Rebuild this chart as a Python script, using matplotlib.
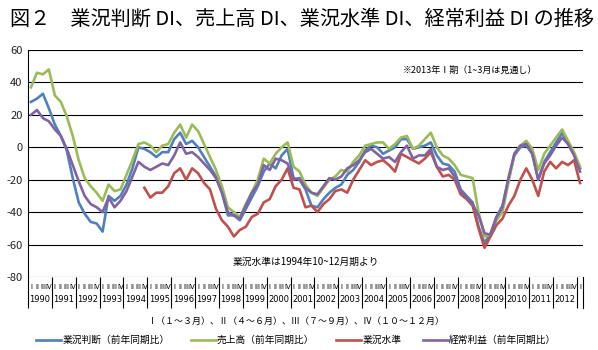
import matplotlib
matplotlib.use("Agg")
import matplotlib.pyplot as plt
import numpy as np

plt.rcParams['font.family'] = ['Noto Sans CJK JP', 'DejaVu Sans']
plt.rcParams['axes.unicode_minus'] = False

# quarterly data, 1990 I .. 2013 I
years = list(range(1990, 2013))
quarter_names = ["I", "II", "III", "IV"]

gyokyo_handan = [28, 30, 33, 24, 14, 7, -2, -19, -34, -41, -46, -47, -52, -30, -33, -30,
                 -23, -13, 0, -1, -3, -6, -3, -3, 5, 9, 2, 4, 0, -6, -12, -18,
                 -28, -42, -42, -45, -38, -31, -24, -15, -10, -13, -5, -1, -19, -20, -26, -36,
                 -37, -32, -28, -25, -23, -17, -14, -9, -2, 1, 0, -4, -2, 0, 5, 5,
                 -1, 0, 1, 3, -5, -10, -11, -15, -26, -30, -34, -49, -59, -53, -43, -36,
                 -20, -5, 0, 1, -4, -20, -9, -3, 3, 9, 2, -4, -13]

uriage = [37, 46, 45, 48, 32, 28, 19, 7, -8, -19, -24, -28, -33, -23, -27, -26,
          -17, -8, 2, 3, 1, -3, 1, 2, 9, 14, 6, 14, 10, 2, -6, -14,
          -24, -37, -40, -43, -35, -28, -20, -7, -10, -4, 0, 3, -12, -15, -23, -28,
          -30, -25, -20, -18, -14, -15, -9, -5, 1, 2, 3, 3, -1, 2, 6, 7,
          -1, 1, 5, 9, 0, -5, -7, -11, -17, -18, -19, -40, -55, -54, -45, -40,
          -22, -4, 1, 4, -1, -14, -4, 1, 6, 11, 4, -3, -12]

gyokyo_suijun = [None] * 19 + [
    -25, -31, -28, -28, -24, -16, -13, -20, -13, -16, -22, -26, -38,
    -45, -49, -55, -51, -49, -43, -41, -34, -32, -24, -20, -13, -25, -26, -37, -36,
    -40, -35, -32, -27, -26, -28, -20, -14, -8, -11, -9, -8, -11, -15, -4, -6,
    -8, -10, -7, -3, -12, -18, -17, -20, -29, -32, -36, -50, -62, -55, -48, -44,
    -36, -30, -20, -13, -20, -30, -15, -9, -13, -9, -11, -8, -22]

keijo_rieki = [20, 23, 18, 16, 11, 7, -1, -11, -21, -30, -35, -37, -40, -31, -37, -33,
               -27, -18, -9, -12, -14, -12, -10, -11, -5, 3, -4, -3, -6, -10, -14, -19,
               -28, -40, -42, -44, -36, -28, -23, -11, -14, -7, -8, -10, -20, -19, -25, -28,
               -29, -24, -19, -20, -18, -13, -11, -8, -3, -1, -4, -7, -6, -9, -3, 1,
               -7, -5, -5, -1, -12, -14, -13, -18, -27, -31, -35, -42, -53, -54, -43, -37,
               -19, -4, 1, 2, -4, -20, -10, -5, 1, 6, 2, -5, -15]

series = [
    ("業況判断（前年同期比）", gyokyo_handan, "#4F81BD"),
    ("売上高（前年同期比）", uriage, "#9BBB59"),
    ("業況水準", gyokyo_suijun, "#C0504D"),
    ("経常利益（前年同期比）", keijo_rieki, "#8064A2"),
]

n = len(gyokyo_handan)
x = np.arange(n)

fig = plt.figure(figsize=(5.98, 3.5), dpi=100)
W, H = 598, 350
ax = fig.add_axes([28 / W, 1 - 277 / H, (583 - 28) / W, (277 - 50) / H])

for label, vals, color in series:
    y = np.array([np.nan if v is None else v for v in vals], dtype=float)
    ax.plot(x, y, color=color, lw=1.9, label=label, solid_joinstyle='round')

ax.set_xlim(-0.5, n - 0.5)
ax.set_ylim(-80, 60)
ax.set_yticks(np.arange(-80, 61, 20))
ax.grid(axis='y', color='black', lw=0.8)
ax.set_axisbelow(True)
for s in ['top', 'right', 'bottom']:
    ax.spines[s].set_visible(False)
ax.spines['left'].set_linewidth(0.8)
ax.tick_params(axis='y', length=0, labelsize=8, pad=4, labelcolor='#222222')

# x axis: year boxes with quarter marks
bounds = np.arange(-0.5, n, 4)
ax.set_xticks([])
ax.set_xticks(bounds, minor=True)
ax.tick_params(axis='x', which='minor', length=22, width=0.8, direction='out')

trans = ax.get_xaxis_transform()
ax_h = 277 - 50
for i in range(n):
    ax.text(i, -10 / ax_h, quarter_names[i % 4], transform=trans, ha='center', va='center',
            fontsize=5, family='DejaVu Sans')
for k, yr in enumerate(years):
    ax.text(4 * k + 1.5, -23 / ax_h, str(yr), transform=trans, ha='center', va='center',
            fontsize=6, family='DejaVu Sans')
ax.plot([n - 0.5, n - 0.5], [0, -31 / ax_h], transform=trans, clip_on=False, color='black', lw=0.8)

fig.text(10 / W, 1 - 19 / H, "図２　業況判断 DI、売上高 DI、業況水準 DI、経常利益 DI の推移",
         fontsize=14.5, va='center', ha='left')
fig.text(470 / W, 1 - 70 / H, "※2013年Ⅰ期（1~3月は見通し）", fontsize=6.5, ha='center', va='center')
fig.text(306 / W, 1 - 262 / H, "業況水準は1994年10~12月期より", fontsize=7, ha='center', va='center')
fig.text(296 / W, 1 - 321 / H, "Ⅰ（１～３月）、Ⅱ（４～６月）、Ⅲ（７～９月）、Ⅳ（１０～１２月）",
         fontsize=6.5, ha='center', va='center')

fig.legend(loc='center', bbox_to_anchor=(296 / W, 1 - 340 / H), ncol=4, frameon=False,
           fontsize=7, handlelength=2.6, handletextpad=0.1, columnspacing=2.2,
           borderaxespad=0, borderpad=0)

fig.savefig("out.png", dpi=100)
